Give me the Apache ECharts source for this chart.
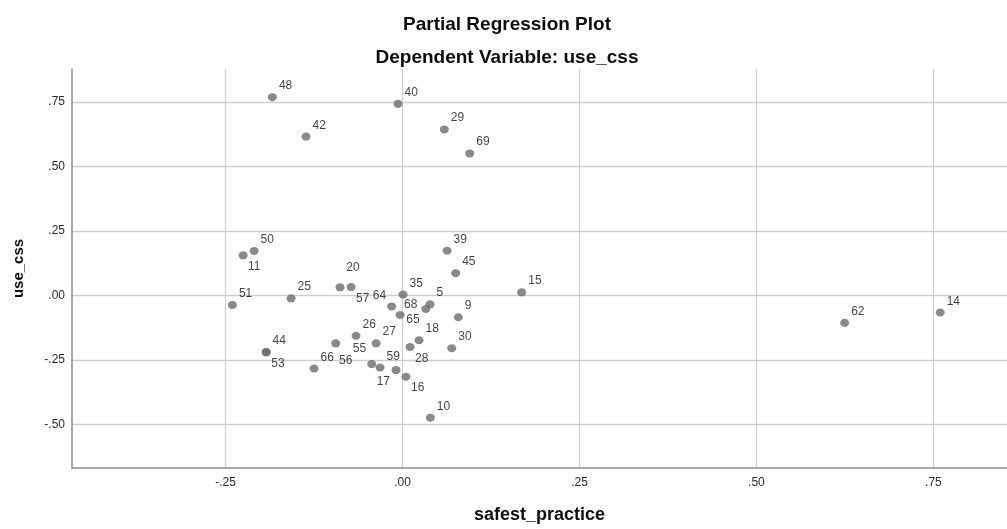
<!DOCTYPE html>
<html>
<head>
<meta charset="utf-8">
<title>Partial Regression Plot</title>
<script src="https://cdn.jsdelivr.net/npm/echarts@6/dist/echarts.min.js"></script>
<style>
  html, body { margin: 0; padding: 0; background: #ffffff; }
  #chart { width: 1007px; height: 529px; }
</style>
</head>
<body>
<div id="chart"></div>
<script>
// Case numbers and their partial residuals
const caseIds = [5, 9, 10, 11, 14, 15, 16, 17, 18, 20, 25, 26, 27, 28, 29, 30, 35, 39,
                 40, 42, 44, 45, 48, 50, 51, 53, 55, 56, 57, 59, 62, 64, 65, 66, 68, 69];
const safestPractice = [0.0388, 0.0788, 0.0393, -0.2253, 0.7596, 0.1684, 0.0049, -0.0092, 0.0233,
                        -0.0883, -0.1575, -0.0657, -0.0374, 0.0106, 0.0590, 0.0695, 0.0007, 0.0629,
                        -0.0064, -0.1363, -0.1928, 0.0751, -0.1839, -0.2097, -0.2404, -0.1925,
                        -0.0435, -0.0944, -0.0727, -0.0318, 0.6246, -0.0153, -0.0035, -0.1250,
                        0.0328, 0.0949];
const useCss = [-0.035, -0.085, -0.474, 0.155, -0.0665, 0.0115, -0.3154, -0.2896, -0.174,
                0.031, -0.0115, -0.1565, -0.186, -0.200, 0.643, -0.205, 0.003, 0.173,
                0.742, 0.615, -0.219, 0.086, 0.768, 0.172, -0.037, -0.221,
                -0.2665, -0.186, 0.032, -0.2796, -0.1065, -0.043, -0.076, -0.2835,
                -0.053, 0.550];
const xTicks = [-0.25, 0, 0.25, 0.5, 0.75];
const yTicks = [-0.5, -0.25, 0, 0.25, 0.5, 0.75];

// Where each case label sits around its marker (default: upper right)
const spots = {
  ur:    { dx: 6.5,  dy: -11.3, align: 'left' },
  lr:    { dx: 5,    dy: 11.3,  align: 'left' },
  ul:    { dx: -5.5, dy: -10.5, align: 'right' },
  ll:    { dx: -6,   dy: 11.5,  align: 'right' },
  high:  { dx: 6.3,  dy: -20,   align: 'left' },
  left:  { dx: -8.4, dy: -4.7,  align: 'right' },
  right: { dx: 6.3,  dy: 4.3,   align: 'left' },
  ulHi:  { dx: -5.7, dy: -15.6, align: 'right' },
  below: { dx: 3.3,  dy: 17.4,  align: 'left' }
};
const spotOfCase = {
  11: 'lr', 20: 'high', 57: 'lr', 64: 'ul', 68: 'left', 65: 'right',
  55: 'ulHi', 56: 'below', 17: 'll', 16: 'lr', 28: 'lr', 53: 'lr', 5: 'ur'
};

const FONT = '"Liberation Sans", Arial, Helvetica, sans-serif';
const DOT_W = 9, DOT_H = 8;

// SPSS-style tick text: .75, -.25, .00
function spssFmt(v) {
  const s = Number(v).toFixed(2);
  return s.replace(/^(-?)0\./, '$1.');
}

const points = caseIds.map((id, i) => {
  const sp = spots[spotOfCase[id] || 'ur'];
  return {
    name: String(id),
    value: [safestPractice[i], useCss[i]],
    label: {
      position: [sp.dx + DOT_W / 2, sp.dy + DOT_H / 2],
      align: sp.align,
      verticalAlign: 'middle'
    }
  };
});

const chart = echarts.init(document.getElementById('chart'), null, { renderer: 'canvas' });
chart.setOption({
  animation: false,
  backgroundColor: '#ffffff',
  textStyle: { fontFamily: FONT },
  title: [
    {
      text: 'Partial Regression Plot',
      left: 502, top: 10, textAlign: 'center',
      textStyle: { fontFamily: FONT, fontSize: 19, fontWeight: 'bold', color: '#0d0d0d' }
    },
    {
      text: 'Dependent Variable: use_css',
      left: 502, top: 43, textAlign: 'center',
      textStyle: { fontFamily: FONT, fontSize: 19, fontWeight: 'bold', color: '#0d0d0d' }
    }
  ],
  grid: { left: 72, right: 0, top: 69, bottom: 58, containLabel: false },
  xAxis: {
    type: 'value',
    min: -0.467, max: 0.854,
    name: 'safest_practice',
    nameLocation: 'middle',
    nameGap: 38,
    nameTextStyle: { fontFamily: FONT, fontSize: 18, fontWeight: 'bold', color: '#0d0d0d', verticalAlign: 'top' },
    axisLine: { show: true, onZero: false, lineStyle: { color: '#8c8c8c', width: 1.5 } },
    axisTick: { show: false, customValues: xTicks },
    axisLabel: { customValues: xTicks, formatter: spssFmt, fontFamily: FONT, fontSize: 12, color: '#2a2a2a', margin: 9 },
    splitLine: { show: true, lineStyle: { color: '#cdcdcd', width: 1.3 } }
  },
  yAxis: {
    type: 'value',
    min: -0.669, max: 0.877,
    name: 'use_css',
    nameLocation: 'middle',
    nameRotate: 90,
    nameGap: 46,
    nameTextStyle: { fontFamily: FONT, fontSize: 15, fontWeight: 'bold', color: '#0d0d0d' },
    axisLine: { show: true, onZero: false, lineStyle: { color: '#8c8c8c', width: 1.5 } },
    axisTick: { show: false, customValues: yTicks },
    axisLabel: { customValues: yTicks, formatter: spssFmt, fontFamily: FONT, fontSize: 12, color: '#2a2a2a', margin: 7 },
    splitLine: { show: true, lineStyle: { color: '#cdcdcd', width: 1.3 } }
  },
  series: [{
    type: 'scatter',
    symbol: 'circle',
    symbolSize: [DOT_W, DOT_H],
    itemStyle: { color: '#6c6c6c' },
    label: {
      show: true,
      formatter: '{b}',
      fontFamily: FONT,
      fontSize: 12,
      color: '#111111'
    },
    labelLayout: { hideOverlap: false },
    data: points
  }]
});
</script>
</body>
</html>
